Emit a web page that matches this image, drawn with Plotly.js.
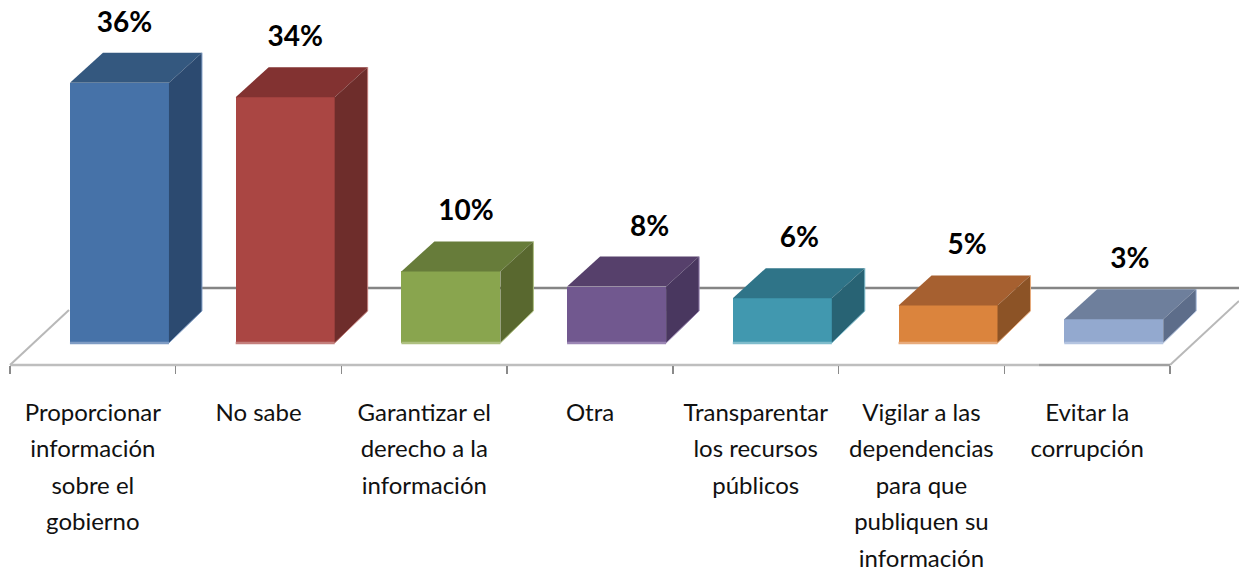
<!DOCTYPE html>
<html>
<head>
<meta charset="utf-8">
<script src="https://cdn.plot.ly/plotly-3.0.1.min.js"></script>
<style>html,body{margin:0;padding:0;background:#fff;overflow:hidden}</style>
</head>
<body>
<div id="chart" style="width:1239px;height:572px"></div>
<script>
// ---- data ----
const categoryLines = [
  ["Proporcionar", "información", "sobre el", "gobierno"],
  ["No sabe"],
  ["Garantizar el", "derecho a la", "información"],
  ["Otra"],
  ["Transparentar", "los recursos", "públicos"],
  ["Vigilar a las", "dependencias", "para que", "publiquen su", "información"],
  ["Evitar la", "corrupción"]
];
const values = [36, 34, 9.9, 7.8, 6.2, 5.2, 3.3];
const valueLabels = ["36%", "34%", "10%", "8%", "6%", "5%", "3%"];
const frontColors = ["#4672a8", "#aa4643", "#89a54e", "#71588f", "#4198af", "#db843d", "#93a9cf"];
const topColors   = ["#34587f", "#823231", "#677c3a", "#56406b", "#2f7488", "#a66030", "#6e7f9c"];
const sideColors  = ["#2c4a70", "#6e2d2b", "#59682f", "#49375f", "#286374", "#8c5326", "#5d6d8a"];
const rimColors   = ["#7f9cc4", "#c47f7c", "#aec080", "#9b86b4", "#7fbccc", "#e8ab7c", "#b4c4e0"];
const labelNudgeX = [5, 10, 15, 33, 17, 19, 16];

// ---- chart geometry ----
const W = 1239, H = 572;
const floorLeft = 10, floorRight = 1170, floorY = 365, zeroPx = 343;
const pxPerCat = (floorRight - floorLeft) / 7, pxPerVal = 7.23;
const pxToVal = p => (zeroPx - p) / pxPerVal;
const pxToCat = p => (p - floorLeft) / pxPerCat - 0.5;
const barShift = 26.6 / pxPerCat, barWidth = 99 / pxPerCat;
const depthX = 33 / pxPerCat, depthTop = 30 / pxPerVal, depthBase = 32 / pxPerVal;
const hidden = {hoverinfo: "skip", showlegend: false};

const barX = values.map((_, i) => i + barShift);
const traces = [];

// front faces
traces.push(Object.assign({
  type: "bar", x: barX, y: values, width: barWidth,
  marker: {color: frontColors, line: {width: 0}}
}, hidden));

// top and side faces, computed from each value
function poly(xs, ys, color) {
  traces.push(Object.assign({type: "scatter", mode: "lines", x: xs, y: ys, fill: "toself", fillcolor: color,
    line: {width: 0, color: color}}, hidden));
}
values.forEach((v, i) => {
  const l = barX[i] - barWidth / 2, r = barX[i] + barWidth / 2;
  poly([l, r, r + depthX, l + depthX, l], [v, v, v + depthTop, v + depthTop, v], topColors[i]);
  poly([r, r + depthX, r + depthX, r, r], [0, depthBase, v + depthTop, v, 0], sideColors[i]);
  traces.push(Object.assign({type: "scatter", mode: "lines", x: [l, r], y: [0, 0],
    line: {width: 2.5, color: rimColors[i]}}, hidden));
  traces.push(Object.assign({type: "scatter", mode: "lines",
    x: [r, r + depthX, r + depthX], y: [0, depthBase, v + depthTop],
    line: {width: 1, color: rimColors[i]}}, hidden));
});

// floor
function floorLine(x0, x1, y0, y1, color, width) {
  traces.push(Object.assign({type: "scatter", mode: "lines", x: [x0, x1], y: [y0, y1],
    line: {width: width, color: color}}, hidden));
}
floorLine(pxToCat(floorLeft), pxToCat(floorLeft + 59), pxToVal(floorY), pxToVal(310), "#b8b8b8", 2);
floorLine(pxToCat(floorRight), pxToCat(W), pxToVal(floorY), pxToVal(301), "#b8b8b8", 2);
floorLine(pxToCat(floorLeft), pxToCat(1039), pxToVal(floorY), pxToVal(floorY), "#bebebe", 2.5);
floorLine(pxToCat(1039), pxToCat(floorRight), pxToVal(floorY), pxToVal(floorY), "#a0a0a0", 2.5);

// value labels
traces.push(Object.assign({
  type: "scatter", mode: "text",
  x: barX.map((x, i) => x + labelNudgeX[i] / pxPerCat),
  y: values.map(v => v + 58 / pxPerVal),
  text: valueLabels, textposition: "middle center",
  textfont: {family: "Lato, sans-serif", size: 28, color: "#000", weight: 700}
}, hidden));

// category labels, one text per line so the line spacing can follow the reference
const lineX = [], lineY = [], lineT = [];
categoryLines.forEach((lines, i) => lines.forEach((t, k) => {
  lineX.push(i); lineY.push(pxToVal(414.5 + 36.6 * k)); lineT.push(t);
}));
traces.push(Object.assign({
  type: "scatter", mode: "text",
  x: lineX, y: lineY, text: lineT, textposition: "middle center",
  textfont: {family: "Lato, 'Open Sans', sans-serif", size: 24, color: "#111"}
}, hidden));

const layout = {
  width: W, height: H, autosize: false,
  margin: {l: 0, r: 0, t: 0, b: 0, pad: 0},
  paper_bgcolor: "#fff", plot_bgcolor: "rgba(0,0,0,0)",
  showlegend: false, bargap: 0,
  xaxis: {
    type: "linear", range: [pxToCat(0), pxToCat(W)], fixedrange: true, zeroline: false, showgrid: false,
    showline: false, anchor: "free", position: (H - floorY) / H,
    tickmode: "array", tickvals: [-0.5, 0.5, 1.5, 2.5, 3.5, 4.5, 5.5, 6.5],
    ticktext: ["", "", "", "", "", "", "", ""],
    ticks: "outside", ticklen: 8, tickwidth: 1.5, tickcolor: "#8a8a8a"
  },
  yaxis: {
    range: [pxToVal(H), pxToVal(0)], fixedrange: true,
    showticklabels: false, ticks: "", showgrid: false, zeroline: false, showline: false
  },
  shapes: [{
    type: "line", layer: "below", xref: "paper", yref: "y",
    x0: 100 / W, x1: 1, y0: pxToVal(288), y1: pxToVal(288),
    line: {color: "#858585", width: 2.5}
  }]
};
Plotly.newPlot("chart", traces, layout, {displayModeBar: false, staticPlot: true});
</script>
</body>
</html>
